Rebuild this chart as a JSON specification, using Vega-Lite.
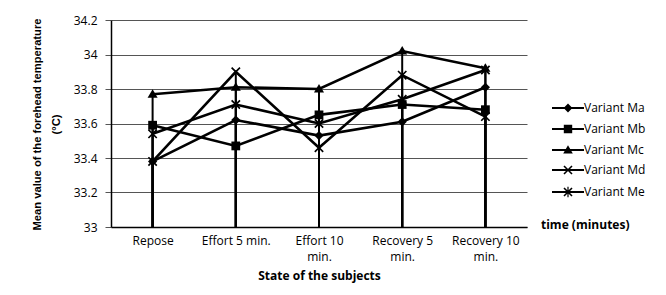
{
  "$schema": "https://vega.github.io/schema/vega-lite/v6.json",
  "width": 416,
  "height": 207,
  "autosize": {"type": "none"},
  "padding": {"left": 111, "top": 20, "right": 139, "bottom": 68},
  "background": "white",
  "config": {
    "view": {"stroke": null},
    "font": "Open Sans",
    "axis": {"labelColor": "black", "titleColor": "black", "labelFont": "Open Sans", "labelFontSize": 12},
    "legend": {"labelColor": "black", "titleColor": "black"}
  },
  "data": {
    "values": [
      {"state": "Repose", "variant": "Variant Ma", "value": 33.38},
      {"state": "Effort 5 min.", "variant": "Variant Ma", "value": 33.62},
      {"state": "Effort 10 min.", "variant": "Variant Ma", "value": 33.53},
      {"state": "Recovery 5 min.", "variant": "Variant Ma", "value": 33.61},
      {"state": "Recovery 10 min.", "variant": "Variant Ma", "value": 33.81},
      {"state": "Repose", "variant": "Variant Mb", "value": 33.59},
      {"state": "Effort 5 min.", "variant": "Variant Mb", "value": 33.47},
      {"state": "Effort 10 min.", "variant": "Variant Mb", "value": 33.65},
      {"state": "Recovery 5 min.", "variant": "Variant Mb", "value": 33.71},
      {"state": "Recovery 10 min.", "variant": "Variant Mb", "value": 33.68},
      {"state": "Repose", "variant": "Variant Mc", "value": 33.77},
      {"state": "Effort 5 min.", "variant": "Variant Mc", "value": 33.81},
      {"state": "Effort 10 min.", "variant": "Variant Mc", "value": 33.80},
      {"state": "Recovery 5 min.", "variant": "Variant Mc", "value": 34.02},
      {"state": "Recovery 10 min.", "variant": "Variant Mc", "value": 33.92},
      {"state": "Repose", "variant": "Variant Md", "value": 33.38},
      {"state": "Effort 5 min.", "variant": "Variant Md", "value": 33.90},
      {"state": "Effort 10 min.", "variant": "Variant Md", "value": 33.46},
      {"state": "Recovery 5 min.", "variant": "Variant Md", "value": 33.88},
      {"state": "Recovery 10 min.", "variant": "Variant Md", "value": 33.64},
      {"state": "Repose", "variant": "Variant Me", "value": 33.54},
      {"state": "Effort 5 min.", "variant": "Variant Me", "value": 33.71},
      {"state": "Effort 10 min.", "variant": "Variant Me", "value": 33.60},
      {"state": "Recovery 5 min.", "variant": "Variant Me", "value": 33.74},
      {"state": "Recovery 10 min.", "variant": "Variant Me", "value": 33.91}
    ]
  },
  "encoding": {
    "x": {
      "field": "state",
      "type": "nominal",
      "sort": ["Repose", "Effort 5 min.", "Effort 10 min.", "Recovery 5 min.", "Recovery 10 min."],
      "scale": {"type": "point", "padding": 0.5},
      "axis": {
        "title": "State of the subjects",
        "titleFont": "Open Sans",
        "titleFontSize": 12,
        "titleFontWeight": "bold",
        "titlePadding": 8,
        "labelAngle": 0,
        "labelPadding": 8,
        "labelLineHeight": 16,
        "labelExpr": "length(datum.label) > 13 ? [replace(datum.label, ' min.', ''), 'min.'] : datum.label",
        "ticks": false,
        "grid": false,
        "domainColor": "black",
        "domainWidth": 1.5
      }
    },
    "y": {
      "field": "value",
      "type": "quantitative",
      "scale": {"domain": [33, 34.2], "zero": false, "nice": false},
      "axis": {
        "values": [33, 33.2, 33.4, 33.6, 33.8, 34, 34.2],
        "format": ".1~f",
        "labelOverlap": false,
        "title": ["Mean value of the forehead temperature", "(°C)"],
        "titleFont": "Liberation Sans",
        "titleFontSize": 11.2,
        "titleFontWeight": "bold",
        "titleAngle": -90,
        "titleX": -71,
        "titleY": 104,
        "titleAlign": "center",
        "titleBaseline": "alphabetic",
        "titleLineHeight": 19,
        "gridColor": "#555555",
        "gridWidth": 1,
        "tickColor": "#555555",
        "tickSize": 6,
        "labelPadding": 8,
        "domainColor": "black",
        "domainWidth": 1.5
      }
    }
  },
  "resolve": {"scale": {"shape": "independent"}},
  "layer": [
    {
      "mark": {"type": "rule", "color": "black", "strokeWidth": 2},
      "encoding": {
        "y2": {"datum": 33}
      }
    },
    {
      "mark": {"type": "line", "color": "black", "strokeWidth": 2.6},
      "encoding": {
        "detail": {"field": "variant", "type": "nominal"}
      }
    },
    {
      "mark": {"type": "point", "filled": true, "color": "black", "opacity": 1, "size": 70},
      "encoding": {
        "shape": {
          "field": "variant",
          "type": "nominal",
          "scale": {
            "domain": ["Variant Ma", "Variant Mb", "Variant Mc", "Variant Md", "Variant Me"],
            "range": [
              "M0,-1.1L-1.1,0L0,1.1L1.1,0Z",
              "M-1.05,-1.05L-1.05,1.05L1.05,1.05L1.05,-1.05Z",
              "M0,-1.2L-1.2,0.85L1.2,0.85Z",
              "M-1.141,-0.859L0.859,1.141L1.141,0.859L-0.859,-1.141ZM-0.859,1.141L1.141,-0.859L0.859,-1.141L-1.141,0.859Z",
              "M-1.141,-0.859L0.859,1.141L1.141,0.859L-0.859,-1.141ZM-0.859,1.141L1.141,-0.859L0.859,-1.141L-1.141,0.859ZM-0.15,-1.3L-0.15,1.3L0.15,1.3L0.15,-1.3Z"
            ]
          },
          "legend": null
        }
      }
    },
    {
      "transform": [{"filter": "datum.value > 100"}],
      "mark": {"type": "point", "filled": true, "color": "black", "opacity": 1, "size": 64},
      "encoding": {
        "shape": {
          "field": "variant",
          "type": "nominal",
          "scale": {
            "domain": ["Variant Ma", "Variant Mb", "Variant Mc", "Variant Md", "Variant Me"],
            "range": [
              "M0,-1.1L-1.1,0L0,1.1L1.1,0ZM-4,-0.25L-4,0.25L4,0.25L4,-0.25Z",
              "M-1.05,-1.05L-1.05,1.05L1.05,1.05L1.05,-1.05ZM-4,-0.25L-4,0.25L4,0.25L4,-0.25Z",
              "M0,-1.2L-1.2,0.85L1.2,0.85ZM-4,-0.25L-4,0.25L4,0.25L4,-0.25Z",
              "M-1.141,-0.859L0.859,1.141L1.141,0.859L-0.859,-1.141ZM-0.859,1.141L1.141,-0.859L0.859,-1.141L-1.141,0.859ZM-4,-0.25L-4,0.25L4,0.25L4,-0.25Z",
              "M-1.141,-0.859L0.859,1.141L1.141,0.859L-0.859,-1.141ZM-0.859,1.141L1.141,-0.859L0.859,-1.141L-1.141,0.859ZM-0.15,-1.3L-0.15,1.3L0.15,1.3L0.15,-1.3ZM-4,-0.25L-4,0.25L4,0.25L4,-0.25Z"
            ]
          },
          "legend": {
            "title": "time (minutes)",
            "orient": "none",
            "legendX": 430,
            "legendY": 82,
            "titleOrient": "bottom",
            "titleFont": "Open Sans",
            "titleFontSize": 12,
            "titleFontWeight": "bold",
            "titlePadding": 20,
            "labelFont": "Open Sans",
            "labelFontSize": 12,
            "padding": 0,
            "symbolSize": 64,
            "symbolOffset": 21,
            "labelOffset": 10,
            "rowPadding": 5,
            "symbolFillColor": "black"
          }
        }
      }
    }
  ]
}
